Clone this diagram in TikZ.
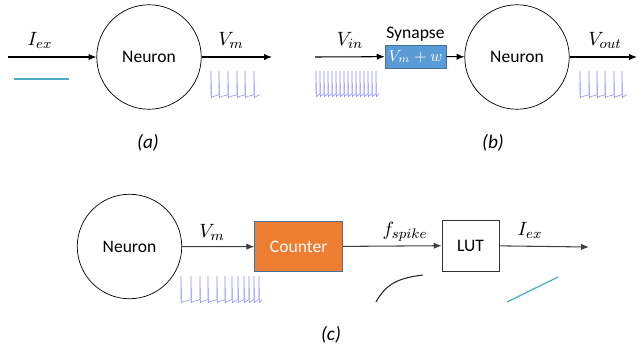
\documentclass[tikz,border=0pt]{standalone}
\usepackage{fontspec}
\setmainfont{Carlito}
\usepackage{xcolor}
\usepackage{tikz}
\usetikzlibrary{shapes, positioning, arrows.meta}

\definecolor{synblue}{HTML}{5B9BD5}
\definecolor{boxedge}{HTML}{41719C}
\definecolor{cntorange}{HTML}{ED7D31}
\definecolor{spikeblue}{RGB}{135,135,255}
\definecolor{curteal}{HTML}{4BACC6}

\tikzset{
	neuron/.style={circle, draw, minimum size=2.09cm, inner sep=0pt},
	sig/.style={-{Latex[length=4.5pt, width=3.6pt]}, semithick},
	lbl/.style={font=\fontsize{11}{13}\selectfont, inner sep=1pt},
	sublbl/.style={font=\itshape\fontsize{11}{13}\selectfont},
	spike/.style={spikeblue, line width=0.3pt},
}

% one spike train: pairs x/next x, baseline, top
\newcommand{\spiketrain}[3]{
	\foreach \sx/\nx in {#1} {
		\draw[spike] (\sx,#2-1.5) -- (\sx,#3) -- (\sx+0.5,#2+1.5) .. controls (\sx+1.8,#2) and (\nx-1,#2-0.5) .. (\nx,#2-1.5);
	}
}

\begin{document}
\begin{tikzpicture}[x=0.02cm, y=-0.02cm]
	\useasboundingbox (0,0) rectangle (639,353);

	% (a)
	% Nodes
	\node (neuronA) [neuron] at (149,57) {Neuron};
	\coordinate (inA) at (8,57);
	\coordinate (outA) at (272,57);
	\node (iexA) [lbl] at (40,40) {$I_{ex}$};
	\node (vmA) [lbl] at (231,40) {$V_m$};
	\node (subA) [sublbl] at (148,143) {(a)};

	% Edges
	\draw[sig] (inA) -- (neuronA);
	\draw[sig] (neuronA) -- (outA);

	% Signals
	\draw[curteal, line width=0.7pt] (14,79) -- (69,79);
	\spiketrain{211/219,219/228,228/237,237/245,245/254,254/260}{96}{71}

	% (b)
	% Nodes
	\node (syn) [draw=boxedge, fill=synblue, text=white, minimum width=1.22cm, minimum height=0.46cm, inner sep=0pt, font=\small] at (415.5,56.5) {$V_m+w$};
	\node (synlbl) [above=0pt of syn, inner sep=1.5pt] {Synapse};
	\node (neuronB) [neuron] at (517,57) {Neuron};
	\coordinate (inB) at (315,57);
	\coordinate (outB) at (637,57);
	\node (vinB) [lbl] at (350,40) {$V_{in}$};
	\node (voutB) [lbl] at (605,40) {$V_{out}$};
	\node (subB) [sublbl] at (493,143) {(b)};

	% Edges
	\draw[sig] (inB) -- (syn);
	\draw[sig] (syn) -- (neuronB);
	\draw[sig] (neuronB) -- (outB);

	% Signals
	\spiketrain{316/320,320/324,324/328,328/332,332/336,336/340,340/344,344/348,348/352,352/356,356/360,360/364,364/368,368/372,372/376,376/379}{95}{71}
	\spiketrain{580/589,589/597,597/605,605/614,614/622,622/627}{96}{71}

	% (c)
	% Nodes
	\node (neuronC) [neuron] at (129.5,246.5) {Neuron};
	\node (counter) [draw=boxedge, fill=cntorange, text=white, minimum width=1.76cm, minimum height=1.0cm] at (298.7,246.7) {Counter};
	\node (lut) [draw, black!80, text=black, minimum width=1.14cm, minimum height=1.02cm] at (470.5,245.5) {LUT};
	\coordinate (outC) at (589,247);
	\node (vmC) [lbl] at (212,232) {$V_m$};
	\node (fspk) [lbl] at (405,232) {$f_{spike}$};
	\node (iexC) [lbl] at (530,230) {$I_{ex}$};
	\node (subC) [sublbl] at (331,335) {(c)};

	% Edges
	\draw[sig, black!75] (neuronC) -- (counter);
	\draw[sig, black!75] (counter) -- (lut);
	\draw[sig, black!75] (lut) -- (outC);

	% Signals
	\spiketrain{181/191,191/200,200/208,208/217,217/225,225/232,232/238,238/244,244/249,249/254,254/259,259/262}{301}{276}
	\draw[black!85, line width=0.6pt] (376,302) .. controls (386,284) and (398,278) .. (423,275);
	\draw[curteal, line width=0.7pt] (507,302) -- (558,277);
\end{tikzpicture}
\end{document}
